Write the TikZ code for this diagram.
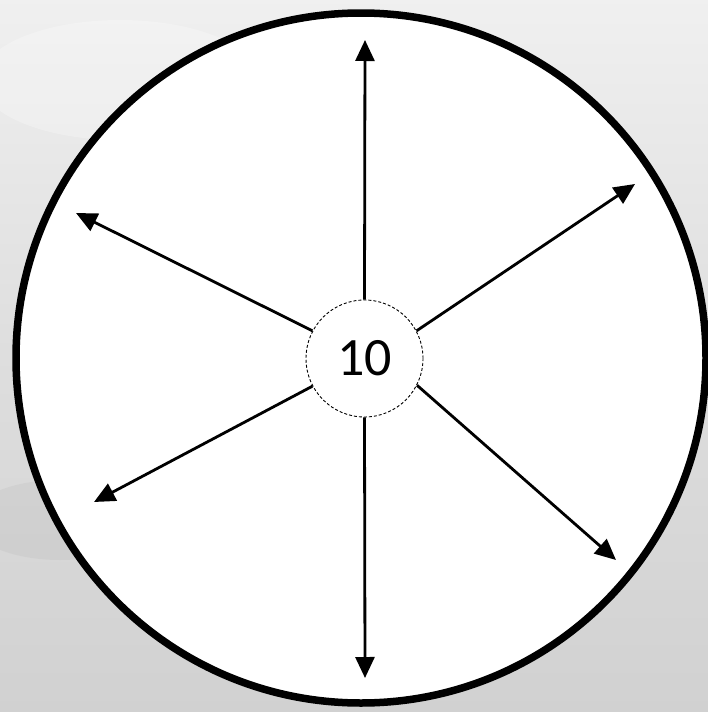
\documentclass[tikz,border=0pt]{standalone}
\usepackage{fontspec}
\setmainfont{Carlito}
\usetikzlibrary{arrows.meta}
\begin{document}
\begin{tikzpicture}[x=1pt,y=-1pt,
  spoke/.style={line width=2.8pt,-{Triangle[length=21pt,width=19pt]}},
  hub/.style={circle,draw,dashed,dash pattern=on 3pt off 2pt,line width=0.9pt,minimum size=117pt,inner sep=0pt,font=\fontsize{54}{64}\selectfont}]
\useasboundingbox (0,0) rectangle (708,712);
\shade[top color=black!6,bottom color=black!18,middle color=black!13] (0,0) rectangle (708,712);
\fill[white,opacity=0.25] (120,80) ellipse (140 and 60);
\fill[black!25,opacity=0.3] (60,520) ellipse (90 and 40);
\draw[line width=7.5pt,fill=white] (361,358) circle (345);
\node[hub] (c) at (364.5,358.5) {10};
\coordinate (tu) at (365,40);
\coordinate (td) at (365,678);
\coordinate (tul) at (76,213);
\coordinate (tur) at (635,184);
\coordinate (tdl) at (94,502);
\coordinate (tdr) at (616,560);
\draw[spoke] (c.north) -- (tu);
\draw[spoke] (c.south) -- (td);
\draw[spoke] (c.152) -- (tul);
\draw[spoke] (c.28) -- (tur);
\draw[spoke] (c.208) -- (tdl);
\draw[spoke] (c.333) -- (tdr);
\end{tikzpicture}
\end{document}
